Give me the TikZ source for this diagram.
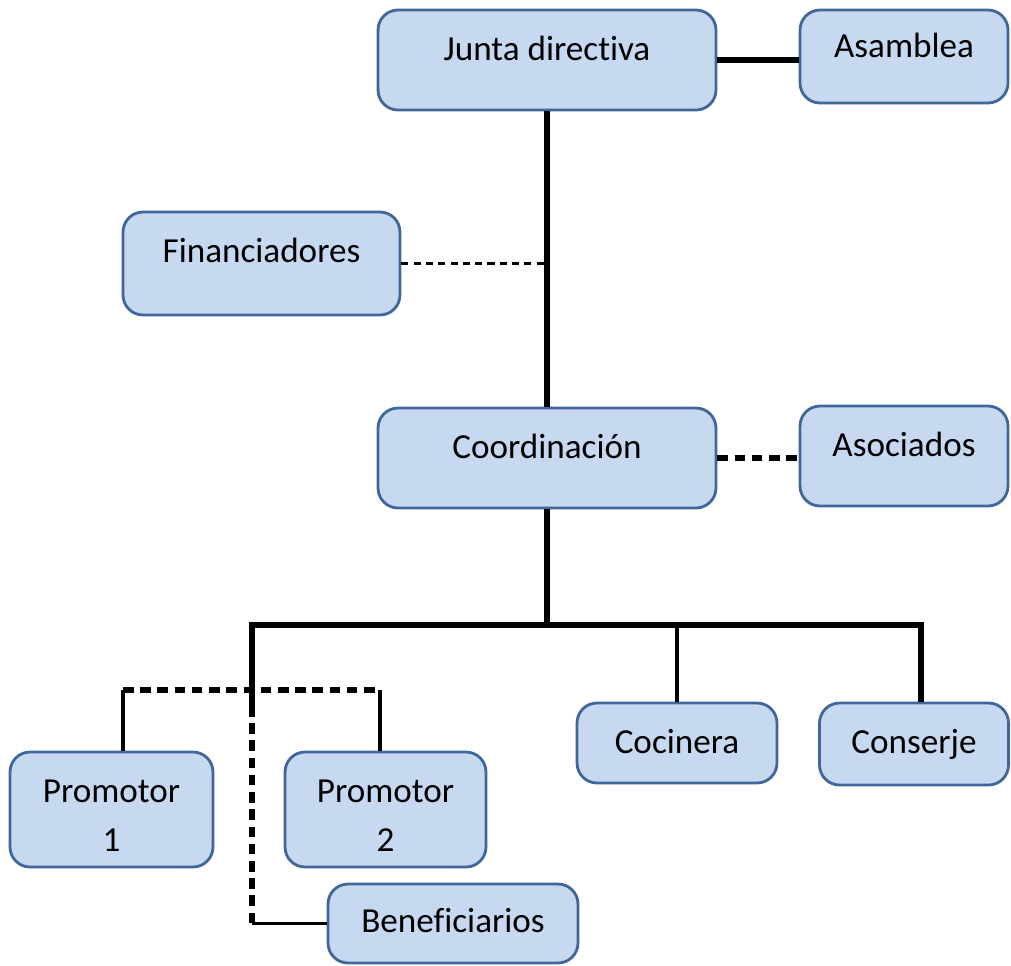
\documentclass[tikz,border=0pt]{standalone}
\usepackage{fontspec}
\setmainfont{Carlito}[Ligatures=CommonOff]
\usetikzlibrary{calc}
\definecolor{boxfill}{HTML}{C6D9F1}
\definecolor{boxline}{HTML}{41669A}

\begin{document}
\begin{tikzpicture}[x=0.02cm, y=-0.02cm,
    box/.style={draw=boxline, fill=boxfill, line width=1.6pt, rounded corners=0.4cm, inner sep=0pt},
    txt/.style={anchor=base, yshift=-1.04cm, inner sep=0pt, font=\fontsize{20}{27.8}\selectfont, align=center},
    thickline/.style={line width=3.3pt},
    thinline/.style={line width=2.1pt},
    thickdash/.style={line width=3.2pt, dash pattern=on 6pt off 3.8pt},
    thindash/.style={line width=1.4pt, dash pattern=on 4pt off 3pt}]
  \useasboundingbox (0,0) rectangle (1011,965);
  % boxes
  \node[box, minimum width=6.76cm, minimum height=2cm, label={[txt]north:Junta directiva}] (junta) at (547,60) {};
  \node[box, minimum width=4.16cm, minimum height=1.86cm, label={[txt, yshift=0.06cm]north:Asamblea}] (asamblea) at (904,56.5) {};
  \node[box, minimum width=5.54cm, minimum height=2.06cm, label={[txt]north:Financiadores}] (fin) at (261.5,263.5) {};
  \node[box, minimum width=6.76cm, minimum height=2cm, label={[txt]north:Coordinación}] (coord) at (547,458) {};
  \node[box, minimum width=4.16cm, minimum height=2cm, label={[txt]north:Asociados}] (asoc) at (904,456) {};
  \node[box, minimum width=4cm, minimum height=1.6cm, label={[txt]north:Cocinera}] (cocinera) at (677,743) {};
  \node[box, minimum width=3.78cm, minimum height=1.64cm, label={[txt]north:Conserje}] (conserje) at (914,744) {};
  \node[box, minimum width=4.06cm, minimum height=2.3cm, label={[txt, yshift=-0.98cm]north:Promotor\\1}] (prom1) at (111.5,809.5) {};
  \node[box, minimum width=4.02cm, minimum height=2.3cm, label={[txt, yshift=-0.98cm]north:Promotor\\2}] (prom2) at (385.5,809.5) {};
  \node[box, minimum width=5cm, minimum height=1.58cm, label={[txt, yshift=0.04cm]north:Beneficiarios}] (ben) at (453,923.5) {};
  % connectors
  \coordinate (bar) at (547,625);
  \coordinate (barR) at (921,625);
  \coordinate (split) at (252,706);
  \coordinate (p1) at (123,690);
  \coordinate (p2) at (380,690);
  \draw[thickline] (junta.east) -- (junta.east -| asamblea.west);
  \draw[thickline] (junta.south) -- (coord.north);
  \draw[thindash] (fin.east) -- (fin.east -| junta.south);
  \draw[thickdash] (coord.east) -- (coord.east -| asoc.west);
  \draw[thickline] (coord.south) -- (bar);
  \draw[thickline] (split) |- (barR) -- (barR |- conserje.north);
  \draw[thinline] (cocinera.north) -- (cocinera.north |- bar);
  \draw[thickdash] (split) -- (split |- ben.west);
  \draw[thinline] (split |- ben.west) -- (ben.west);
  \draw[thickdash] (p1) -- (p2);
  \draw[thinline] (p1) -- (p1 |- prom1.north);
  \draw[thinline] (p2) -- (p2 |- prom2.north);
\end{tikzpicture}
\end{document}
